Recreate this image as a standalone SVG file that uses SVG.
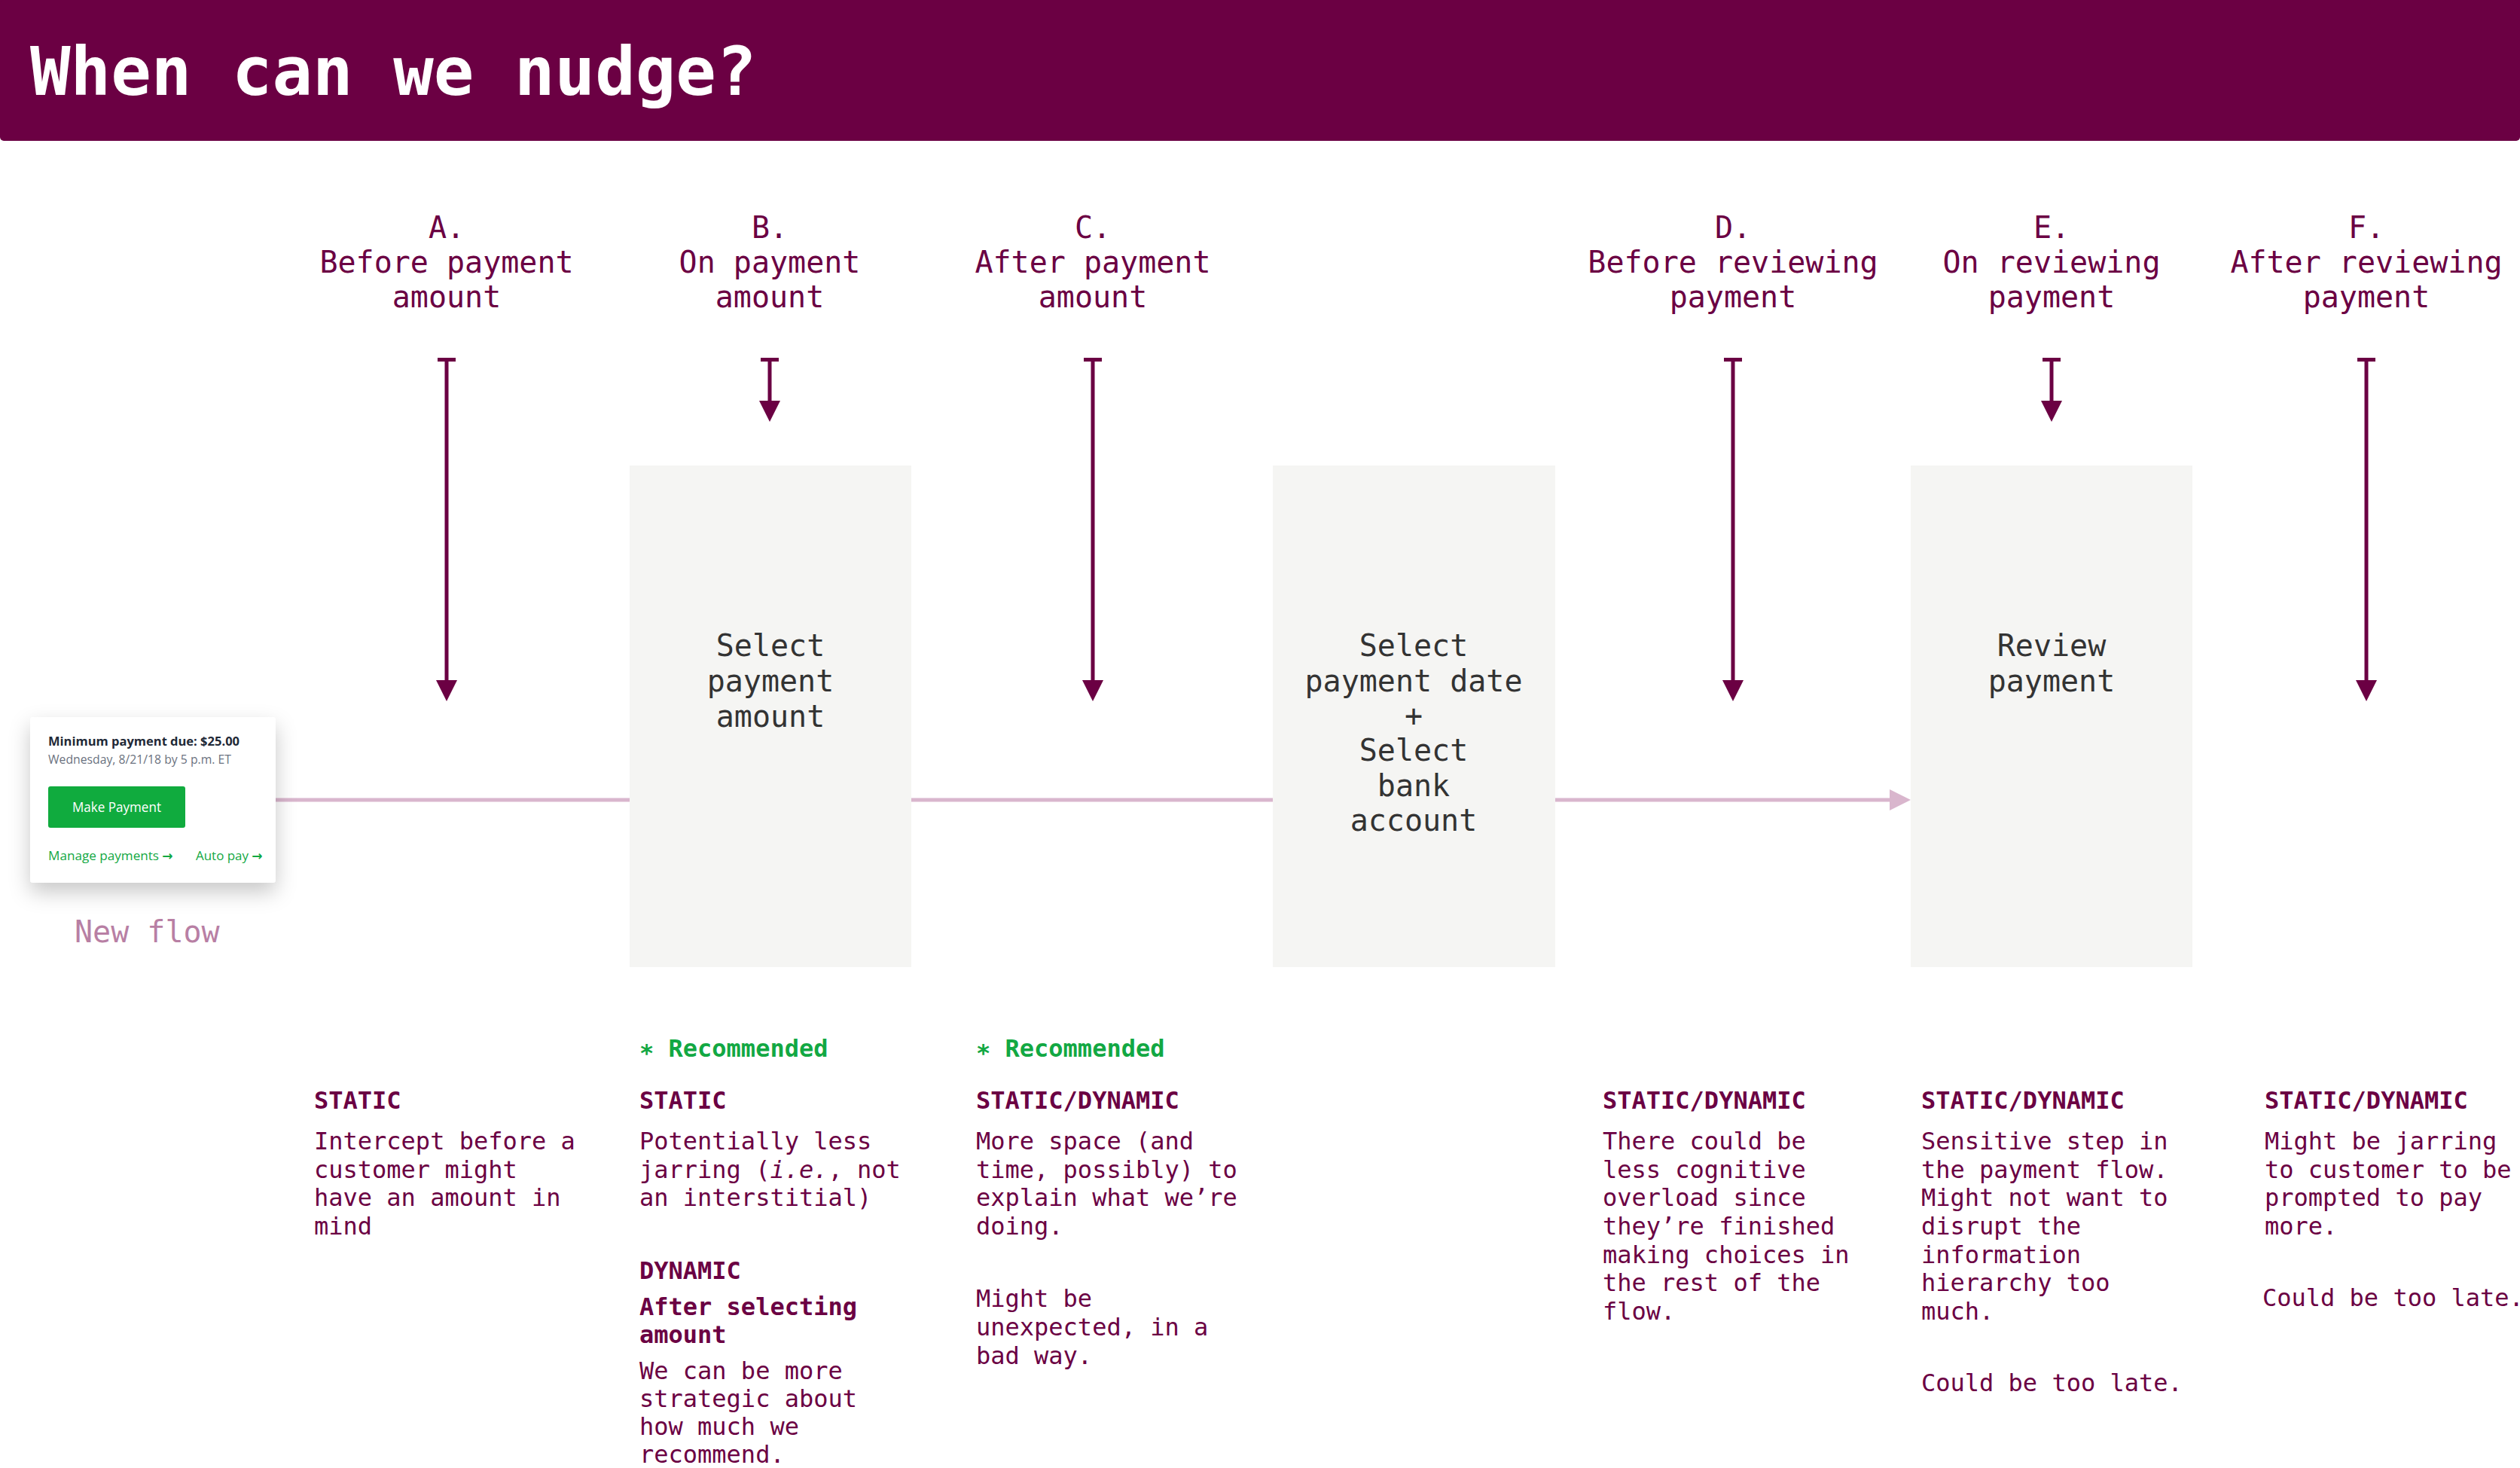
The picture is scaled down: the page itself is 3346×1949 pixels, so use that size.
<svg xmlns="http://www.w3.org/2000/svg" width="3346" height="1949" viewBox="0 0 3346 1949">
<style>
.mono{font-family:"DejaVu Sans Mono","Liberation Mono",monospace}
.hdr{font-family:"DejaVu Sans Mono","Liberation Mono",monospace;font-size:40px;fill:#6b0043;text-anchor:middle}
.box{fill:#f5f5f3}
.boxt{font-family:"DejaVu Sans Mono","Liberation Mono",monospace;font-size:40px;fill:#333333;text-anchor:middle}
.lbl{font-family:"DejaVu Sans Mono","Liberation Mono",monospace;font-size:32px;font-weight:bold;fill:#6b0043}
.body{font-family:"DejaVu Sans Mono","Liberation Mono",monospace;font-size:32px;fill:#6b0043}
.rec{font-family:"DejaVu Sans Mono","Liberation Mono",monospace;font-size:32px;font-weight:bold;fill:#12a843}
.nudge{stroke:#6b0043;stroke-width:5;fill:none;marker-start:url(#tee);marker-end:url(#arrowDown)}
.flow{stroke:#d9b6cd;stroke-width:5;fill:none}
.card{font-family:"Open Sans","Noto Sans","Liberation Sans",sans-serif}
.cardarrow{font-family:"DejaVu Sans",sans-serif;font-weight:bold}
</style>
<defs>
<marker id="tee" markerUnits="userSpaceOnUse" viewBox="0 0 5 24" refX="0" refY="12" markerWidth="5" markerHeight="24" orient="auto">
<path d="M0,0 H5 V24 H0 Z" fill="#6b0043"/>
</marker>
<marker id="arrowDown" markerUnits="userSpaceOnUse" viewBox="0 0 28 28" refX="4" refY="14" markerWidth="28" markerHeight="28" orient="auto">
<path d="M0,0 L28,14 L0,28 Z" fill="#6b0043"/>
</marker>
<marker id="arrowPink" markerUnits="userSpaceOnUse" viewBox="0 0 28 28" refX="4" refY="14" markerWidth="28" markerHeight="28" orient="auto">
<path d="M0,0 L28,14 L0,28 Z" fill="#d9b6cd"/>
</marker>
<filter id="shadow" x="-30%" y="-30%" width="160%" height="180%">
<feDropShadow dx="0" dy="12" stdDeviation="14" flood-color="#000000" flood-opacity="0.22"/>
</filter>
</defs>

<rect x="0" y="0" width="3346" height="150" fill="#6b0043"/>
<rect x="0" y="0" width="3346" height="187" rx="5" fill="#6b0043"/>
<text x="40" y="126" class="mono" font-size="89" font-weight="bold" fill="#ffffff">When can we nudge?</text>

<g id="headers">
<text class="hdr"><tspan x="593" y="316">A.</tspan><tspan x="593" y="362">Before payment</tspan><tspan x="593" y="408">amount</tspan></text>
<text class="hdr"><tspan x="1022" y="316">B.</tspan><tspan x="1022" y="362">On payment</tspan><tspan x="1022" y="408">amount</tspan></text>
<text class="hdr"><tspan x="1451" y="316">C.</tspan><tspan x="1451" y="362">After payment</tspan><tspan x="1451" y="408">amount</tspan></text>
<text class="hdr"><tspan x="2301" y="316">D.</tspan><tspan x="2301" y="362">Before reviewing</tspan><tspan x="2301" y="408">payment</tspan></text>
<text class="hdr"><tspan x="2724" y="316">E.</tspan><tspan x="2724" y="362">On reviewing</tspan><tspan x="2724" y="408">payment</tspan></text>
<text class="hdr"><tspan x="3142" y="316">F.</tspan><tspan x="3142" y="362">After reviewing</tspan><tspan x="3142" y="408">payment</tspan></text>
</g>

<g id="connectors">
<line class="flow" x1="366" y1="1062" x2="836" y2="1062"/>
<line class="flow" x1="1210" y1="1062" x2="1690" y2="1062"/>
<line class="flow" x1="2065" y1="1062" x2="2513" y2="1062" marker-end="url(#arrowPink)"/>
<line class="nudge" x1="593" y1="475" x2="593" y2="907"/>
<line class="nudge" x1="1022" y1="475" x2="1022" y2="536"/>
<line class="nudge" x1="1451" y1="475" x2="1451" y2="907"/>
<line class="nudge" x1="2301" y1="475" x2="2301" y2="907"/>
<line class="nudge" x1="2724" y1="475" x2="2724" y2="536"/>
<line class="nudge" x1="3142" y1="475" x2="3142" y2="907"/>
</g>

<g id="card">
<rect x="40" y="952" width="326" height="220" rx="4" fill="#ffffff" filter="url(#shadow)"/>
<text x="64" y="990" class="card" font-size="16" font-weight="bold" fill="#1f2937" textLength="254" lengthAdjust="spacingAndGlyphs">Minimum payment due: $25.00</text>
<text x="64" y="1014" class="card" font-size="16" fill="#6b7280" textLength="243" lengthAdjust="spacingAndGlyphs">Wednesday, 8/21/18 by 5 p.m. ET</text>
<rect x="64" y="1044" width="182" height="55" rx="3" fill="#10ab3e"/>
<text x="155" y="1078" class="card" font-size="18" fill="#ffffff" text-anchor="middle" textLength="118" lengthAdjust="spacingAndGlyphs">Make Payment</text>
<text x="64" y="1142" class="card" font-size="16" fill="#12a843"><tspan textLength="147" lengthAdjust="spacingAndGlyphs">Manage payments</tspan> <tspan class="cardarrow" font-size="17">→</tspan></text>
<text x="260" y="1142" class="card" font-size="16" fill="#12a843"><tspan textLength="70" lengthAdjust="spacingAndGlyphs">Auto pay</tspan> <tspan class="cardarrow" font-size="17">→</tspan></text>
</g>
<text id="new-flow" x="99" y="1251" class="mono" font-size="40" fill="#b87fa4">New flow</text>

<g id="node-select-amount">
<rect class="box" x="836" y="618" width="374" height="666"/>
<text class="boxt"><tspan x="1023" y="871">Select</tspan><tspan x="1023" y="918">payment</tspan><tspan x="1023" y="965">amount</tspan></text>
</g>
<g id="node-select-date">
<rect class="box" x="1690" y="618" width="375" height="666"/>
<text class="boxt"><tspan x="1877" y="871">Select</tspan><tspan x="1877" y="918">payment date</tspan><tspan x="1877" y="964">+</tspan><tspan x="1877" y="1010">Select</tspan><tspan x="1877" y="1057">bank</tspan><tspan x="1877" y="1103">account</tspan></text>
</g>
<g id="node-review">
<rect class="box" x="2537" y="618" width="374" height="666"/>
<text class="boxt"><tspan x="2724" y="871">Review</tspan><tspan x="2724" y="918">payment</tspan></text>
</g>

<g id="notes-a">
<text class="lbl" x="417" y="1472">STATIC</text>
<text class="body"><tspan x="417" y="1526">Intercept before a</tspan><tspan x="417" y="1564">customer might</tspan><tspan x="417" y="1601">have an amount in</tspan><tspan x="417" y="1639">mind</tspan></text>
</g>
<g id="notes-b">
<text class="rec" x="849" y="1403">∗ Recommended</text>
<text class="lbl" x="849" y="1472">STATIC</text>
<text class="body"><tspan x="849" y="1526">Potentially less</tspan><tspan x="849" y="1564">jarring (<tspan font-style="italic">i.e.</tspan>, not</tspan><tspan x="849" y="1601">an interstitial)</tspan></text>
<text class="lbl" x="849" y="1698">DYNAMIC</text>
<text class="lbl"><tspan x="849" y="1746">After selecting</tspan><tspan x="849" y="1783">amount</tspan></text>
<text class="body"><tspan x="849" y="1831">We can be more</tspan><tspan x="849" y="1868">strategic about</tspan><tspan x="849" y="1905">how much we</tspan><tspan x="849" y="1942">recommend.</tspan></text>
</g>
<g id="notes-c">
<text class="rec" x="1296" y="1403">∗ Recommended</text>
<text class="lbl" x="1296" y="1472">STATIC/DYNAMIC</text>
<text class="body"><tspan x="1296" y="1526">More space (and</tspan><tspan x="1296" y="1564">time, possibly) to</tspan><tspan x="1296" y="1601">explain what we’re</tspan><tspan x="1296" y="1639">doing.</tspan></text>
<text class="body"><tspan x="1296" y="1735">Might be</tspan><tspan x="1296" y="1773">unexpected, in a</tspan><tspan x="1296" y="1811">bad way.</tspan></text>
</g>
<g id="notes-d">
<text class="lbl" x="2128" y="1472">STATIC/DYNAMIC</text>
<text class="body"><tspan x="2128" y="1526">There could be</tspan><tspan x="2128" y="1564">less cognitive</tspan><tspan x="2128" y="1601">overload since</tspan><tspan x="2128" y="1639">they’re finished</tspan><tspan x="2128" y="1677">making choices in</tspan><tspan x="2128" y="1714">the rest of the</tspan><tspan x="2128" y="1752">flow.</tspan></text>
</g>
<g id="notes-e">
<text class="lbl" x="2551" y="1472">STATIC/DYNAMIC</text>
<text class="body"><tspan x="2551" y="1526">Sensitive step in</tspan><tspan x="2551" y="1564">the payment flow.</tspan><tspan x="2551" y="1601">Might not want to</tspan><tspan x="2551" y="1639">disrupt the</tspan><tspan x="2551" y="1677">information</tspan><tspan x="2551" y="1714">hierarchy too</tspan><tspan x="2551" y="1752">much.</tspan></text>
<text class="body" x="2551" y="1847">Could be too late.</text>
</g>
<g id="notes-f">
<text class="lbl" x="3007" y="1472">STATIC/DYNAMIC</text>
<text class="body"><tspan x="3007" y="1526">Might be jarring</tspan><tspan x="3007" y="1564">to customer to be</tspan><tspan x="3007" y="1601">prompted to pay</tspan><tspan x="3007" y="1639">more.</tspan></text>
<text class="body" x="3004" y="1734">Could be too late.</text>
</g>
</svg>
